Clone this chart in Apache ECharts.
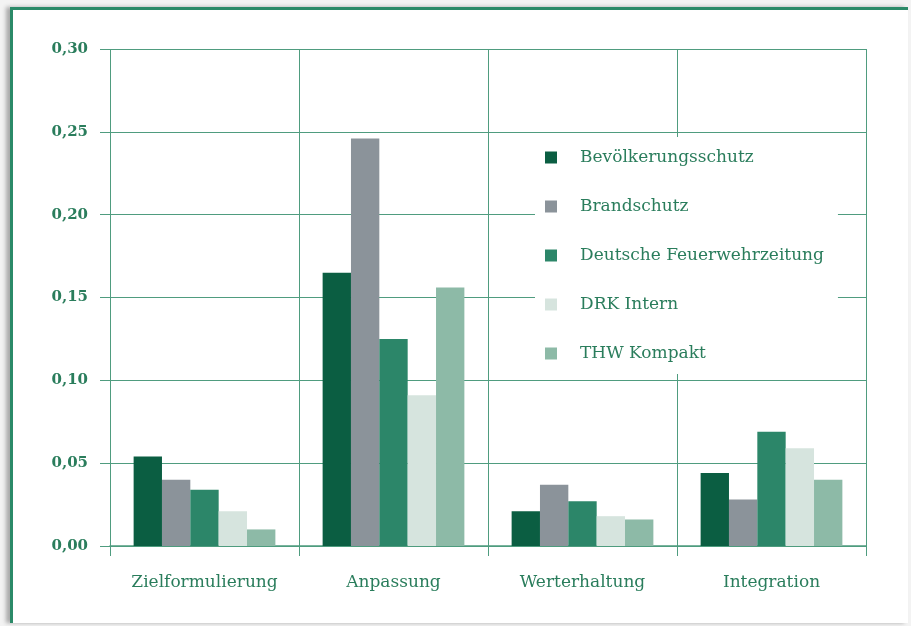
<!DOCTYPE html>
<html>
<head>
<meta charset="utf-8">
<script src="https://cdn.jsdelivr.net/npm/echarts@6/dist/echarts.min.js"></script>
<style>
  html, body { margin: 0; padding: 0; background: #fff; }
  #frame {
    position: absolute; left: 0; top: 0; width: 911px; height: 626px;
    background: #f3f3f3;
  }
  #main {
    position: absolute; left: 10px; top: 7px; width: 895px; height: 613px;
    background: #fff;
    border-top: 3px solid #2b8a68; border-left: 3px solid #2b8a68;
    box-shadow: -4px 0 4px #aaa;
  }
</style>
</head>
<body>
<div id="frame"></div>
<div id="main"></div>
<script>
// Kategorien und Werte
var categories = ['Zielformulierung', 'Anpassung', 'Werterhaltung', 'Integration'];
var bevoelkerungsschutz = [0.054, 0.165, 0.021, 0.044];
var brandschutz = [0.040, 0.246, 0.037, 0.028];
var feuerwehrzeitung = [0.034, 0.125, 0.027, 0.069];
var drkIntern = [0.021, 0.091, 0.018, 0.059];
var thwKompakt = [0.010, 0.156, 0.016, 0.040];
var yTicks = [0, 0.05, 0.10, 0.15, 0.20, 0.25, 0.30];

var green = '#2a7d5c';
var lineColor = '#4f9c7f';

var chart = echarts.init(document.getElementById('main'), null, {width: 895, height: 613});

function bar(name, data, color) {
  return {
    name: name,
    type: 'bar',
    data: data,
    barGap: '0%',
    barCategoryGap: '25%',
    itemStyle: { color: color }
  };
}

var option = {
  animation: false,
  textStyle: { fontFamily: 'DejaVu Serif' },
  grid: { left: 97, right: 42, top: 39, bottom: 77 },
  legend: {
    orient: 'vertical',
    left: 522,
    top: 127,
    padding: [12, 14, 12, 10],
    backgroundColor: '#fff',
    itemWidth: 12,
    itemHeight: 12,
    itemGap: 32,
    icon: 'rect',
    textStyle: { color: green, fontSize: 17, padding: [0, 0, 0, 18] },
    data: ['Bevölkerungsschutz', 'Brandschutz', 'Deutsche Feuerwehrzeitung', 'DRK Intern', 'THW Kompakt']
  },
  xAxis: {
    type: 'category',
    data: categories,
    axisLine: { lineStyle: { color: lineColor, width: 1.5 } },
    axisTick: { show: true, interval: 0, length: 10, lineStyle: { color: lineColor } },
    splitLine: { show: true, interval: 0, lineStyle: { color: lineColor, width: 1, opacity: 1 } },
    axisLabel: { color: green, fontSize: 17, margin: 28, interval: 0, hideOverlap: false }
  },
  yAxis: {
    type: 'value',
    min: 0,
    max: 0.30,
    interval: 0.05,
    axisLine: { show: false },
    axisTick: { show: true, length: 10, lineStyle: { color: lineColor } },
    splitLine: { show: true, lineStyle: { color: lineColor, width: 1, opacity: 1 } },
    axisLabel: {
      color: green, fontSize: 15, fontWeight: 'bold', margin: 22,
      formatter: function (v) { return v.toFixed(2).replace('.', ','); }
    }
  },
  series: [
    bar('Bevölkerungsschutz', bevoelkerungsschutz, '#0b5e42'),
    bar('Brandschutz', brandschutz, '#8b939a'),
    bar('Deutsche Feuerwehrzeitung', feuerwehrzeitung, '#2c8669'),
    bar('DRK Intern', drkIntern, '#d6e4de'),
    bar('THW Kompakt', thwKompakt, '#8dbaa7')
  ]
};

chart.setOption(option);
</script>
</body>
</html>
